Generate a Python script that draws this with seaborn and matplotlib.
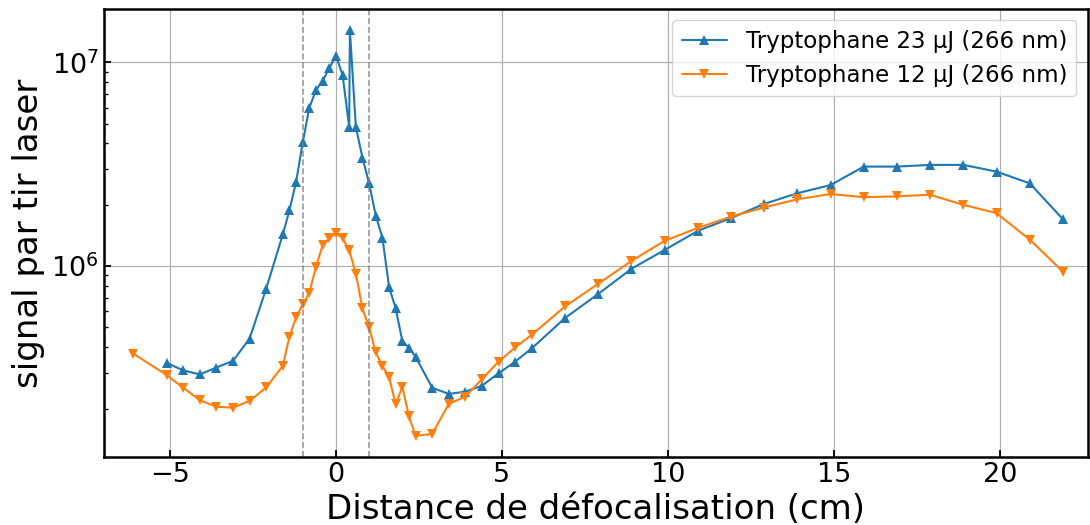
import numpy as np
import pandas as pd
import matplotlib
matplotlib.use("Agg")
import matplotlib.pyplot as plt
import seaborn as sns

# distance (cm) and signal per laser shot
x_23uj = [-5.1, -4.6, -4.1, -3.6, -3.1, -2.6, -2.1,
          -1.6, -1.4, -1.2, -1.0, -0.8, -0.6, -0.4, -0.2,
          0.0, 0.2, 0.4, 0.42, 0.6, 0.8,
          1.0, 1.2, 1.4, 1.6, 1.8, 2.0, 2.2, 2.4,
          2.9, 3.4, 3.9, 4.4, 4.9, 5.4, 5.9,
          6.9, 7.9, 8.9, 9.9, 10.9, 11.9, 12.9, 13.9,
          14.9, 15.9, 16.9, 17.9, 18.9, 19.9, 20.9, 21.9]
sig_23uj = [3.35e5, 3.08e5, 2.94e5, 3.18e5, 3.43e5, 4.41e5, 7.76e5,
            1.43e6, 1.88e6, 2.59e6, 4.05e6, 6.0e6, 7.31e6, 8.13e6, 9.35e6,
            1.08e7, 8.67e6, 4.83e6, 1.45e7, 4.83e6, 3.4e6,
            2.55e6, 1.77e6, 1.38e6, 7.92e5, 6.2e5, 4.3e5, 3.97e5, 3.59e5,
            2.53e5, 2.36e5, 2.42e5, 2.59e5, 2.98e5, 3.4e5, 3.95e5,
            5.56e5, 7.3e5, 9.7e5, 1.2e6, 1.49e6, 1.72e6, 2.02e6, 2.28e6,
            2.5e6, 3.08e6, 3.08e6, 3.14e6, 3.14e6, 2.91e6, 2.55e6, 1.7e6]

x_12uj = [-6.1, -5.1, -4.6, -4.1, -3.6, -3.1, -2.6, -2.1,
          -1.6, -1.4, -1.2, -1.0, -0.8, -0.6, -0.4, -0.2,
          0.0, 0.2, 0.4, 0.6, 0.8,
          1.0, 1.2, 1.4, 1.6, 1.8, 2.0, 2.2, 2.4,
          2.9, 3.4, 3.9, 4.4, 4.9, 5.4, 5.9,
          6.9, 7.9, 8.9, 9.9, 10.9, 11.9, 12.9, 13.9,
          14.9, 15.9, 16.9, 17.9, 18.9, 19.9, 20.9, 21.9]
sig_12uj = [3.72e5, 2.92e5, 2.53e5, 2.2e5, 2.04e5, 2.02e5, 2.18e5, 2.54e5,
            3.24e5, 4.5e5, 5.6e5, 6.5e5, 7.4e5, 9.93e5, 1.27e6, 1.37e6,
            1.45e6, 1.37e6, 1.2e6, 9.2e5, 6.2e5,
            5.0e5, 3.77e5, 3.23e5, 2.87e5, 2.1e5, 2.56e5, 1.83e5, 1.47e5,
            1.5e5, 2.11e5, 2.29e5, 2.79e5, 3.4e5, 3.99e5, 4.6e5,
            6.34e5, 8.19e5, 1.06e6, 1.33e6, 1.54e6, 1.75e6, 1.94e6, 2.13e6,
            2.26e6, 2.18e6, 2.2e6, 2.24e6, 2.0e6, 1.82e6, 1.35e6, 9.4e5]

labels = ["Tryptophane 23 µJ (266 nm)", "Tryptophane 12 µJ (266 nm)"]
focus_edges = [-1.0, 1.0]

sns.set_style("ticks", {"xtick.direction": "in", "ytick.direction": "in",
                        "text.color": "black", "axes.labelcolor": "black",
                        "xtick.color": "black", "ytick.color": "black"})
plt.rcParams['font.family'] = ['DejaVu Sans']

fig, ax = plt.subplots(figsize=(10.9, 5.25), dpi=100)
fig.subplots_adjust(left=0.095, right=0.998, top=0.983, bottom=0.130)

sns.lineplot(x=x_23uj, y=sig_23uj, ax=ax, marker="^", color="#1f77b4",
             markersize=6.5, markeredgewidth=0, linewidth=1.5,
             sort=False, estimator=None, label=labels[0])
sns.lineplot(x=x_12uj, y=sig_12uj, ax=ax, marker="v", color="#ff7f0e",
             markersize=6.5, markeredgewidth=0, linewidth=1.5,
             sort=False, estimator=None, label=labels[1])

for xv in focus_edges:
    ax.axvline(xv, color="gray", linestyle="--", linewidth=1.2, alpha=0.8)

ax.set_yscale("log")
ax.set_xlim(-7.0, 22.65)
ax.set_ylim(1.16e5, 1.83e7)
ax.grid(True, which="major", color="#b0b0b0", linewidth=0.9)

ax.set_xlabel("Distance de défocalisation (cm)", fontsize=24.5)
ax.set_ylabel("signal par tir laser", fontsize=24.5)
ax.tick_params(axis="both", which="major", labelsize=19.5, length=5, width=1.3)
ax.tick_params(axis="y", which="minor", length=3, width=1)

for sp in ax.spines.values():
    sp.set_linewidth(1.8)
    sp.set_color("black")

ax.legend(loc="upper right", fontsize=16.5, frameon=True)

plt.savefig("out.png", dpi=100)
